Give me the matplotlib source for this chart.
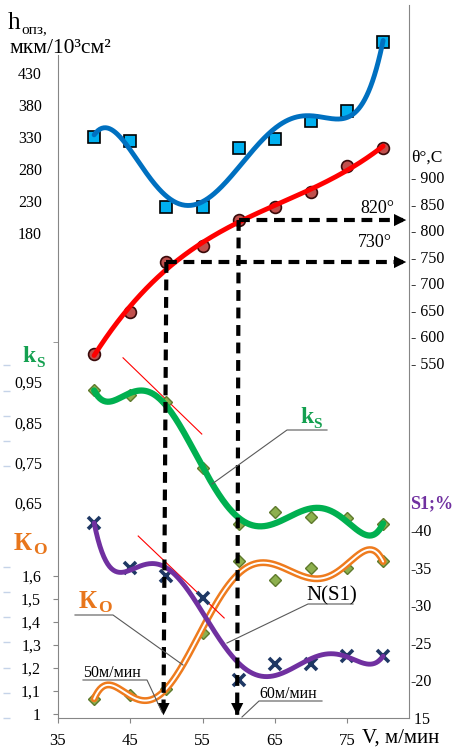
import numpy as np
import matplotlib.pyplot as plt
from matplotlib.lines import Line2D

plt.rcParams['font.family'] = ['Liberation Serif', 'DejaVu Serif']

# cutting speed, m/min
V = [40, 45, 50, 55, 60, 65, 70, 75, 80]
# h_opz, mkm/10^3 cm^2
h_opz = [330, 324, 221, 221, 313, 327, 355, 371, 478]
# temperature, deg C
theta = [567, 646, 740, 770, 819, 843, 872, 921, 955]
ks = [0.930, 0.918, 0.900, 0.737, 0.598, 0.627, 0.615, 0.612, 0.598]
ko = [1.065, 1.083, 1.109, 1.352, 1.665, 1.583, 1.635, 1.635, 1.665]
s1 = [40.9, 35.0, 33.9, 31.0, 20.1, 22.2, 22.2, 23.3, 23.2]

h_ticks = [180, 230, 280, 330, 380, 430]
t_ticks = [550, 600, 650, 700, 750, 800, 850, 900]
ks_ticks = [0.65, 0.75, 0.85, 0.95]
ko_ticks = [1.0, 1.1, 1.2, 1.3, 1.4, 1.5, 1.6]
s1_ticks = [15, 20, 25, 30, 35, 40]
x_ticks = [35, 45, 55, 65, 75]

# thin red tangent lines (V, value)
tan_ks = [(44.0, 1.010), (54.9, 0.821)]
tan_s1 = [(46.1, 39.2), (58.0, 28.3)]

# figure geometry in pixels
W, H = 460, 753
L, R, T, B = 58, 409, 5, 718
GREY = '#868686'


def lim(v1, p1, v2, p2):
    k = (v2 - v1) / (p2 - p1)
    return v1 + (B - p1) * k, v1 + (T - p1) * k


def px(x, y):
    return x / W, 1 - y / H


def trend(ax, y, deg, **kw):
    c = np.polyfit(V, y, deg)
    xs = np.linspace(V[0], V[-1], 300)
    ax.plot(xs, np.polyval(c, xs), solid_capstyle='round', **kw)


fig = plt.figure(figsize=(W / 100, H / 100), dpi=100)
rect = [L / W, 1 - B / H, (R - L) / W, (B - T) / H]

# base axes: h_opz
ax = fig.add_axes(rect)
ax.set_xlim(35, 35 + (R - L) / 7.225)
h_lim = lim(430, 73, 180, 233)
ax.set_ylim(*h_lim)
ax.set_xticks(x_ticks)
ax.set_yticks(h_ticks)
ax.tick_params(axis='x', direction='out', length=3.6, color=GREY, labelsize=12, pad=7)
ax.tick_params(axis='y', length=0, labelsize=11.5, pad=11.5)
ax.spines['top'].set_visible(False)
for sp in ['left', 'right', 'bottom']:
    ax.spines[sp].set_color(GREY)
ax.spines['left'].set_bounds(h_lim[0], h_lim[0] + (B - 55) * 250 / 160)

ax.plot(V, h_opz, 's', ms=8, mfc='#00B0F0', mec='black', mew=1.2, zorder=3)
trend(ax, h_opz, 5, color='#0070C0', lw=3.5, zorder=4)

# ks axis (left)
ax_k = ax.twinx()
ax_k.set_ylim(*lim(0.95, 382, 0.65, 503))
ax_k.yaxis.tick_left()
ax_k.set_yticks(ks_ticks)
ax_k.set_yticklabels([f'{v:.2f}'.replace('.', ',') for v in ks_ticks])
ax_k.set_yticks([1.05], minor=True)
ax_k.tick_params(axis='y', which='major', length=0, labelsize=11.5, pad=11.5)
ax_k.tick_params(axis='y', which='minor', length=3.6, color=GREY, direction='out')
ax_k.plot(V, ks, 'D', ms=6.5, mfc='#8DB04E', mec='#5E7A2C', mew=1, zorder=3)
trend(ax_k, ks, 6, color='#00B050', lw=4.5, zorder=4)
ax_k.plot(*zip(*tan_ks), color='red', lw=0.8)

# Ko axis (left)
ax_o = ax.twinx()
ax_o.set_ylim(*lim(1.6, 576, 1.0, 714))
ax_o.yaxis.tick_left()
ax_o.set_yticks(ko_ticks)
ax_o.set_yticklabels(['1'] + [f'{v:.1f}'.replace('.', ',') for v in ko_ticks[1:]])
ax_o.tick_params(axis='y', length=3.6, color=GREY, direction='out', labelsize=11.5, pad=8.6)
ax_o.plot(V, ko, 'D', ms=6.5, mfc='#8DB04E', mec='#5E7A2C', mew=1, zorder=3)
trend(ax_o, ko, 6, color='#EE7B1E', lw=5, zorder=4)
trend(ax_o, ko, 6, color='white', lw=1.4, zorder=5)

# S1 axis (right)
ax_s = ax.twinx()
ax_s.set_ylim(*lim(40, 530, 15, 718))
ax_s.set_yticks(s1_ticks)
ax_s.set_yticklabels([' 15'] + [f'-{v}' for v in s1_ticks[1:]])
ax_s.tick_params(axis='y', length=0, labelsize=11.5, pad=0.7)
ax_s.plot(V, s1, 'x', ms=9, mew=2.6, color='#1F3864', zorder=3)
trend(ax_s, s1, 6, color='#7030A0', lw=3.5, zorder=4)
ax_s.plot(*zip(*tan_s1), color='red', lw=0.8)

# theta axis (right), on top
ax_t = ax.twinx()
t_lim = lim(900, 177, 550, 363)
ax_t.set_ylim(*t_lim)
ax_t.set_yticks(t_ticks)
ax_t.set_yticklabels([f'- {v}' for v in t_ticks])
ax_t.tick_params(axis='y', length=0, labelsize=11.5, pad=1.4)
ax_t.plot(V, theta, 'o', ms=8.5, mfc='#C0504D', mec='#3A0A0A', mew=1.2, zorder=3)
trend(ax_t, theta, 3, color='#FF0000', lw=3.5, zorder=4)

# dashed arrows from 50 and 60 m/min
xmax = ax.get_xlim()[1]
for i, xend in [(2, 49.6), (4, 59.8)]:
    x0, y0 = V[i], theta[i]
    ax_t.plot([x0, xend], [y0, t_lim[0] + 6], ls=(0, (2.6, 1.6)), color='black', lw=3, zorder=6)
    ax_t.annotate('', xy=(xend, t_lim[0]), xytext=(xend, t_lim[0] + 20),
                  arrowprops=dict(arrowstyle='-|>', color='black', lw=0, mutation_scale=22), zorder=6)
    ax_t.plot([x0, xmax - 0.8], [y0, y0], ls=(0, (2.6, 1.6)), color='black', lw=3, zorder=6)
    ax_t.annotate('', xy=(xmax, y0), xytext=(xmax - 2, y0),
                  arrowprops=dict(arrowstyle='-|>', color='black', lw=0, mutation_scale=22), zorder=6)

for a in [ax_k, ax_o, ax_s, ax_t]:
    for sp in a.spines.values():
        sp.set_visible(False)
    a.patch.set_visible(False)

# faint ticks at far left
ax_f = fig.add_axes(rect)
ax_f.patch.set_visible(False)
ax_f.set_ylim(B, T)
ax_f.set_xticks([])
for sp in ax_f.spines.values():
    sp.set_visible(False)
ax_f.spines['left'].set_position(('outward', 34.5))
ax_f.set_yticks([375 + k * 25.86 for k in [0, 1, 2, 3, 4, 8, 9, 10, 11, 12, 13, 14]])
ax_f.set_yticklabels([])
ax_f.tick_params(axis='y', length=5, width=1, color='#C5D3E8', direction='out')


def label(x, y, s, **kw):
    fig.text(*px(x, y), s, va='baseline', ha='left', **kw)


def leader(xs, ys):
    fig.add_artist(Line2D([x / W for x in xs], [1 - y / H for y in ys], color='#595959', lw=0.8))


label(8, 29, 'h', fontsize=18)
label(21, 33, 'опз,', fontsize=11)
label(9, 53, 'мкм/10³см²', fontsize=15.5)
label(411, 162, 'θ°,C', fontsize=12.5)
label(360, 213, '820°', fontsize=13)
label(358, 247, '730°', fontsize=13)

GREEN = '#14A050'
label(22, 362, 'k', fontsize=17, color=GREEN, fontweight='bold')
label(36, 367, 'S', fontsize=11, color=GREEN, fontweight='bold')
label(300, 423, 'k', fontsize=17, color=GREEN, fontweight='bold')
label(313, 428, 'S', fontsize=11, color=GREEN, fontweight='bold')
leader([327, 287, 212], [430, 430, 484])

label(410, 508, 'S1;%', fontsize=13, color='#7030A0', fontweight='bold')

ORANGE = '#E8761C'
label(14, 550, 'К', fontsize=18, color=ORANGE, fontweight='bold')
label(33, 554, 'О', fontsize=12.5, color=ORANGE, fontweight='bold')
label(79, 608, 'К', fontsize=18, color=ORANGE, fontweight='bold')
label(98, 612, 'О', fontsize=12.5, color=ORANGE, fontweight='bold')
leader([75, 113, 183], [615, 615, 665])

label(306, 600, 'N(S1)', fontsize=15)
leader([353, 308, 227], [604, 604, 643])

label(83, 677, '50м/мин', fontsize=11.5)
leader([83, 147, 162], [680, 680, 712])
label(259, 698, '60м/мин', fontsize=11.5)
leader([322, 259, 242], [701, 701, 717])

label(362, 743, 'V, м/мин', fontsize=15)

fig.savefig('out.png', dpi=100)
